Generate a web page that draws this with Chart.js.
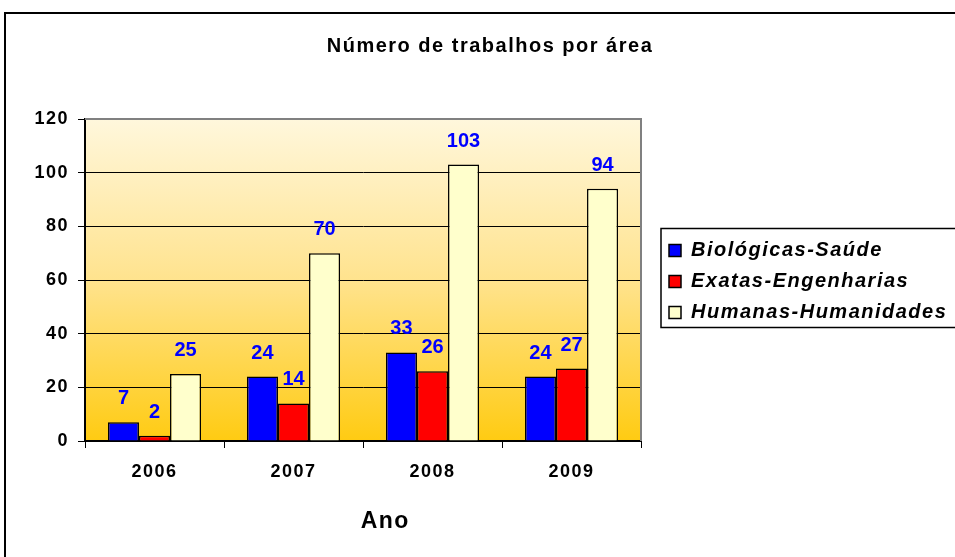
<!DOCTYPE html>
<html><head><meta charset="utf-8">
<script src="https://cdn.jsdelivr.net/npm/chart.js@4/dist/chart.umd.min.js"></script>
<style>html,body{margin:0;padding:0;background:#fff}canvas{display:block}</style>
</head><body>
<canvas id="c" width="955" height="557"></canvas>
<script>
const categories = ['2006', '2007', '2008', '2009'];
const seriesNames = ['Biológicas-Saúde', 'Exatas-Engenharias', 'Humanas-Humanidades'];
const biologicas = [7, 24, 33, 24];
const exatas = [2, 14, 26, 27];
const humanas = [25, 70, 103, 94];
const yTickMax = 120;
const yTickStep = 20;
const chartTitle = 'Número de trabalhos por área';
const xTitle = 'Ano';

const FONT = "'Liberation Sans', Arial, sans-serif";
const SPACING = '1.5px';

const tweaks = {
  id: 'tweaks',
  beforeInit(chart) { chart.ctx.letterSpacing = SPACING; },
  beforeUpdate(chart) { chart.ctx.letterSpacing = SPACING; },
  beforeLayout(chart) {
    const lg = chart.legend;
    if (lg && !lg._fixedFit) {
      const f = lg.fit;
      lg.fit = function () { f.call(this); this.width = 314; };
      lg._fixedFit = true;
    }
  },
  afterLayout(chart) {
    const lg = chart.legend;
    lg.left += 17; lg.right = chart.width + 10; lg.top += 3; lg.bottom += 3;
  },
  beforeDraw(chart) {
    const ctx = chart.ctx, a = chart.chartArea;
    ctx.letterSpacing = SPACING;
    ctx.save();
    ctx.fillStyle = '#ffffff';
    ctx.fillRect(0, 0, chart.width, chart.height);
    const g = ctx.createLinearGradient(0, a.top, 0, a.bottom);
    g.addColorStop(0, '#FFF7DC');
    g.addColorStop(0.5, '#FFE38E');
    g.addColorStop(1, '#FFCB12');
    ctx.fillStyle = g;
    ctx.fillRect(a.left, a.top, a.right - a.left, a.bottom - a.top);
    ctx.strokeStyle = '#000';
    ctx.lineWidth = 2;
    ctx.strokeRect(5, 13, chart.width + 20, chart.height + 20);
    ctx.restore();
  },
  afterDatasetsDraw(chart) {
    const ctx = chart.ctx, a = chart.chartArea;
    ctx.save();
    ctx.strokeStyle = '#808080';
    ctx.lineWidth = 2;
    ctx.beginPath();
    ctx.moveTo(a.left, a.top);
    ctx.lineTo(a.right, a.top);
    ctx.lineTo(a.right, a.bottom);
    ctx.stroke();
    ctx.letterSpacing = '0px';
    ctx.font = 'bold 20px ' + FONT;
    ctx.fillStyle = '#0000FF';
    ctx.textAlign = 'center';
    ctx.textBaseline = 'alphabetic';
    chart.data.datasets.forEach((ds, i) => {
      const meta = chart.getDatasetMeta(i);
      meta.data.forEach((bar, j) => {
        ctx.fillText(String(ds.data[j]), bar.x, bar.y - 18);
      });
    });
    ctx.restore();
  },
  afterDraw(chart) {
    const ctx = chart.ctx, a = chart.chartArea;
    const lg = chart.legend;
    const hb = lg.legendHitBoxes;
    ctx.save();
    if (hb && hb.length) {
      const first = hb[0], last = hb[hb.length - 1];
      const l = first.left - 8, t = first.top - 12, b = last.top + last.height + 5;
      ctx.strokeStyle = '#000';
      ctx.lineWidth = 1.5;
      ctx.strokeRect(l, t, chart.width + 20 - l, b - t);
    }
    ctx.letterSpacing = SPACING;
    ctx.font = 'bold 23px ' + FONT;
    ctx.fillStyle = '#000';
    ctx.textAlign = 'center';
    ctx.textBaseline = 'middle';
    ctx.fillText(xTitle, a.left + (a.right - a.left) * 0.54, a.bottom + 81);
    ctx.restore();
  }
};

new Chart(document.getElementById('c'), {
  type: 'bar',
  data: {
    labels: categories,
    datasets: [
      { label: seriesNames[0], data: biologicas, backgroundColor: '#0000FF' },
      { label: seriesNames[1], data: exatas, backgroundColor: '#FF0000' },
      { label: seriesNames[2], data: humanas, backgroundColor: '#FFFFCC' }
    ].map(d => Object.assign(d, { borderColor: '#000', borderWidth: 1.5, categoryPercentage: 0.67, barPercentage: 1.0 }))
  },
  options: {
    responsive: false,
    animation: false,
    devicePixelRatio: 1,
    layout: { padding: { left: 25, right: 0, top: 0, bottom: 0 } },
    plugins: {
      title: {
        display: true, text: chartTitle, color: '#000',
        font: { family: FONT, size: 20, weight: 'bold' },
        padding: { top: 34, bottom: 61 }
      },
      legend: {
        display: true, position: 'right', align: 'center',
        labels: {
          color: '#000', boxWidth: 12, boxHeight: 12, padding: 11,
          font: { family: FONT, size: 20, weight: 'bold', style: 'italic' }
        }
      },
      tooltip: { enabled: false }
    },
    scales: {
      x: {
        grid: { display: true, drawOnChartArea: false, drawTicks: true, tickLength: 7, color: '#000', lineWidth: 1, offset: true },
        border: { display: true, color: '#000', width: 2 },
        ticks: { color: '#000', padding: 13, font: { family: FONT, size: 18, weight: 'bold' }, maxRotation: 0 },
        afterFit(s) { s.height = 116; }
      },
      y: {
        min: 0, max: yTickMax,
        ticks: { stepSize: yTickStep, color: '#000', padding: 9, font: { family: FONT, size: 18, weight: 'bold' } },
        grid: { color: '#000', lineWidth: 1, tickLength: 7, drawTicks: true },
        border: { display: true, color: '#000', width: 2 },
        afterFit(s) { s.width = 60; }
      }
    }
  },
  plugins: [tweaks]
});
</script>
</body></html>
